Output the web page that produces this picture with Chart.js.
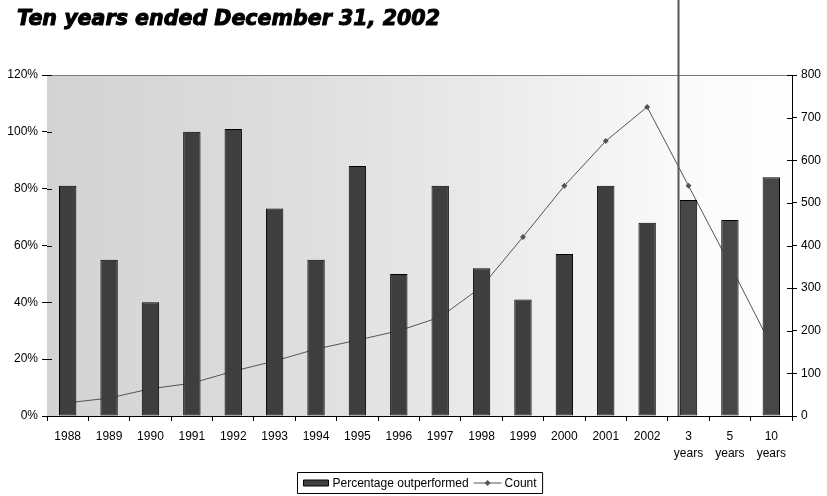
<!DOCTYPE html>
<html>
<head>
<meta charset="utf-8">
<script src="https://cdn.jsdelivr.net/npm/chart.js@4.4.0/dist/chart.umd.min.js"></script>
<style>
  html, body { margin: 0; padding: 0; background: #fff; }
  #wrap { width: 827px; height: 496px; position: relative; }
</style>
</head>
<body>
<div id="wrap"><canvas id="chart" width="827" height="496"></canvas></div>
<script>
// data
const categories = ['1988', '1989', '1990', '1991', '1992', '1993', '1994', '1995', '1996', '1997',
    '1998', '1999', '2000', '2001', '2002', ['3', 'years'], ['5', 'years'], ['10', 'years']];
const pctOutperformed = [81, 55, 40, 100, 101, 73, 55, 88, 50, 81, 52, 41, 57, 81, 68, 76, 69, 84];
const counts = [31, 42, 64, 77, 105, 129, 157, 178, 200, 232, 303, 420, 540, 645, 725, 540, 355, 165];
const pctTicks = [0, 20, 40, 60, 80, 100, 120];
const countTicks = [0, 100, 200, 300, 400, 500, 600, 700, 800];

const FONT = '"Liberation Sans", Arial, Helvetica, sans-serif';
const titleText = 'Ten years ended December 31, 2002';

// background, title, crossing ticks, divider line, legend
const decoPlugin = {
    id: 'deco',
    beforeDatasetsDraw(chart) {
        const { ctx, chartArea: a } = chart;
        ctx.save();
        const g = ctx.createLinearGradient(a.left, 0, a.right, 0);
        g.addColorStop(0, '#d3d3d3');
        g.addColorStop(0.34, '#dedede');
        g.addColorStop(0.62, '#ececec');
        g.addColorStop(0.85, '#fafafa');
        g.addColorStop(1, '#fefefe');
        ctx.fillStyle = g;
        ctx.fillRect(a.left, a.top, a.right - a.left, a.bottom - a.top);
        // top border
        ctx.strokeStyle = '#7a7a7a';
        ctx.lineWidth = 1;
        ctx.beginPath();
        ctx.moveTo(a.left, a.top + 0.5);
        ctx.lineTo(a.right, a.top + 0.5);
        ctx.stroke();
        ctx.restore();
    },
    afterDraw(chart) {
        const { ctx, chartArea: a, scales } = chart;
        ctx.save();

        // title (heavy italic)
        ctx.font = 'italic bold 20.6px "DejaVu Sans", sans-serif';
        ctx.fillStyle = '#000';
        ctx.strokeStyle = '#000';
        ctx.lineWidth = 1;
        ctx.lineJoin = 'round';
        ctx.textBaseline = 'alphabetic';
        ctx.textAlign = 'left';
        ctx.fillText(titleText, 17, 25);
        ctx.strokeText(titleText, 17, 25);

        // inner half of the y tick marks (they cross the axis)
        ctx.strokeStyle = '#000';
        ctx.lineWidth = 1;
        ctx.beginPath();
        scales.y.ticks.forEach(t => {
            const yy = Math.round(scales.y.getPixelForValue(t.value)) + 0.5;
            ctx.moveTo(a.left, yy);
            ctx.lineTo(a.left + 5, yy);
        });
        scales.y1.ticks.forEach(t => {
            const yy = Math.round(scales.y1.getPixelForValue(t.value)) + 0.5;
            ctx.moveTo(a.right - 5, yy);
            ctx.lineTo(a.right, yy);
        });
        ctx.stroke();

        // vertical divider before the multi-year columns
        const bar = chart.getDatasetMeta(0).data[15];
        const dx = Math.round(bar.x - bar.width / 2) - 1.5;
        ctx.strokeStyle = '#555';
        ctx.lineWidth = 2;
        ctx.beginPath();
        ctx.moveTo(dx, 0);
        ctx.lineTo(dx, a.bottom);
        ctx.stroke();

        // legend box
        ctx.font = '12px ' + FONT;
        const t1 = 'Percentage outperformed';
        const t2 = 'Count';
        const w1 = ctx.measureText(t1).width;
        const w2 = ctx.measureText(t2).width;
        const boxW = 6 + 25 + 4 + w1 + 5 + 28 + 3 + w2 + 6;
        const boxH = 21;
        const cx = (a.left + a.right) / 2;
        const bx = Math.round(cx - boxW / 2) + 0.5;
        const by = 472.5;
        ctx.fillStyle = '#fff';
        ctx.fillRect(bx, by, boxW, boxH);
        ctx.strokeStyle = '#000';
        ctx.lineWidth = 1;
        ctx.strokeRect(bx, by, boxW, boxH);
        const my = by + boxH / 2;
        let x = bx + 6;
        ctx.fillStyle = '#404040';
        ctx.fillRect(x, my - 3, 25, 6);
        ctx.strokeRect(x, my - 3, 25, 6);
        x += 29;
        ctx.fillStyle = '#000';
        ctx.textBaseline = 'middle';
        ctx.fillText(t1, x, my + 1);
        x += w1 + 5;
        ctx.strokeStyle = '#555';
        ctx.beginPath();
        ctx.moveTo(x, my);
        ctx.lineTo(x + 28, my);
        ctx.stroke();
        ctx.fillStyle = '#555';
        ctx.beginPath();
        ctx.moveTo(x + 14, my - 3);
        ctx.lineTo(x + 17, my);
        ctx.lineTo(x + 14, my + 3);
        ctx.lineTo(x + 11, my);
        ctx.closePath();
        ctx.fill();
        x += 31;
        ctx.fillStyle = '#000';
        ctx.fillText(t2, x, my + 1);

        ctx.restore();
    }
};

const barColors = pctOutperformed.map((v, i) => i >= 15 ? '#474747' : '#3e3e3e');
const pointSizes = counts.map((v, i) => i >= 16 ? 0 : 3);

new Chart(document.getElementById('chart'), {
    type: 'bar',
    data: {
        labels: categories,
        datasets: [{
            type: 'bar',
            label: 'Percentage outperformed',
            data: pctOutperformed,
            yAxisID: 'y',
            backgroundColor: barColors,
            borderColor: '#000',
            borderWidth: 1,
            borderSkipped: false,
            barPercentage: 0.42,
            categoryPercentage: 1,
            order: 0
        }, {
            type: 'line',
            label: 'Count',
            data: counts,
            yAxisID: 'y1',
            borderColor: '#555',
            borderWidth: 1,
            backgroundColor: '#555',
            pointStyle: 'rectRot',
            pointRadius: pointSizes,
            pointBorderWidth: 0,
            tension: 0,
            order: 1
        }]
    },
    options: {
        responsive: false,
        animation: false,
        layout: { padding: { top: 75, bottom: 25, left: 0, right: 0 } },
        plugins: {
            legend: { display: false },
            tooltip: { enabled: false }
        },
        scales: {
            x: {
                offset: true,
                grid: {
                    offset: true,
                    drawOnChartArea: false,
                    color: '#000',
                    tickLength: 5
                },
                border: { color: '#000', width: 1 },
                ticks: {
                    color: '#000',
                    font: { family: FONT, size: 12, lineHeight: 1.4 },
                    maxRotation: 0,
                    autoSkip: false,
                    padding: 7
                },
                afterFit: s => { s.height = 55; }
            },
            y: {
                position: 'left',
                min: 0,
                max: 120,
                afterBuildTicks: s => { s.ticks = pctTicks.map(v => ({ value: v })); },
                grid: { drawOnChartArea: false, color: '#000', tickLength: 5 },
                border: { color: '#000', width: 1 },
                ticks: {
                    color: '#000',
                    font: { family: FONT, size: 12 },
                    padding: 4,
                    callback: v => v + '%'
                },
                afterFit: s => { s.width = 47; }
            },
            y1: {
                position: 'right',
                min: 0,
                max: 800,
                afterBuildTicks: s => { s.ticks = countTicks.map(v => ({ value: v })); },
                grid: { drawOnChartArea: false, color: '#000', tickLength: 5 },
                border: { color: '#000', width: 1 },
                ticks: {
                    color: '#000',
                    font: { family: FONT, size: 12 },
                    padding: 4
                },
                afterFit: s => { s.width = 35; }
            }
        }
    },
    plugins: [decoPlugin]
});
</script>
</body>
</html>
